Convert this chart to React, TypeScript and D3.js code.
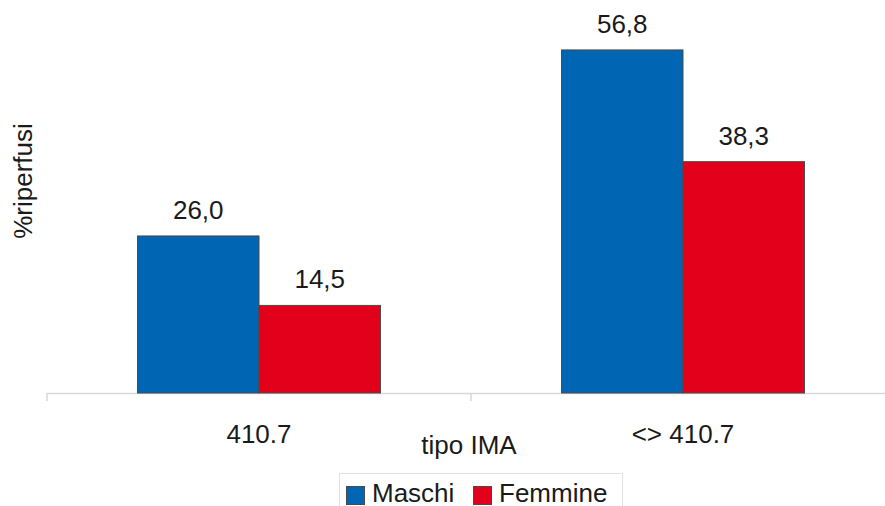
import React from "react";
import * as d3 from "d3";

const categories = ["410.7", "<> 410.7"];
const seriesNames = ["Maschi", "Femmine"];
const maschi = [26.0, 56.8];
const femmine = [14.5, 38.3];
const seriesColors = ["#0066B3", "#E2001A"];

const W = 885;
const H = 506;
const FONT = "'Liberation Sans', Arial, sans-serif";

export default function App() {
  const x0 = 47, x1 = 895;
  const yBase = 393;
  const x = d3.scaleBand<string>().domain(categories).range([x0, x1]).paddingInner(0.427).paddingOuter(0.2135);
  const xs = d3.scaleBand<string>().domain(seriesNames).range([0, x.bandwidth()]);
  const y = d3.scaleLinear().domain([0, 60]).range([yBase, yBase - 60 * 6.04]);
  const values = [maschi, femmine];
  const fmt = (v: number) => v.toFixed(1).replace(".", ",");
  const step = x.step();
  const tickXs = [x0, x0 + step, x0 + 2 * step];

  return (
    <svg width={W} height={H} style={{ position: "absolute", left: 0, top: 0, background: "#fff" }} fontFamily={FONT}>
      <rect x={0} y={0} width={W} height={H} fill="#fff" />
      {/* axis */}
      <line x1={x0} x2={x1} y1={yBase + 0.5} y2={yBase + 0.5} stroke="#d9d9d9" strokeWidth={1.5} />
      {tickXs.map((t, i) => (
        <line key={i} x1={t} x2={t} y1={yBase} y2={yBase + 8} stroke="#d9d9d9" strokeWidth={1.5} />
      ))}
      {/* bars */}
      {categories.map((c, ci) =>
        seriesNames.map((s, si) => {
          const v = values[si][ci];
          const bx = (x(c) ?? 0) + (xs(s) ?? 0);
          const by = y(v);
          return (
            <g key={c + s}>
              <rect x={bx} y={by} width={xs.bandwidth()} height={yBase - by} fill={seriesColors[si]} stroke="#4a4a4a" strokeWidth={1} />
              <text x={bx + xs.bandwidth() / 2} y={by - 17} textAnchor="middle" fontSize={26} fill="#1a1a1a">{fmt(v)}</text>
            </g>
          );
        })
      )}
      {/* category labels */}
      {categories.map((c) => (
        <text key={c} x={(x(c) ?? 0) + x.bandwidth() / 2} y={443} textAnchor="middle" fontSize={26} fill="#1a1a1a">{c}</text>
      ))}
      <text x={469} y={454} textAnchor="middle" fontSize={26} fill="#1a1a1a">tipo IMA</text>
      <text transform={`translate(32,181) rotate(-90)`} textAnchor="middle" fontSize={26} fill="#1a1a1a">%riperfusi</text>
      {/* legend */}
      <rect x={339.5} y={473.5} width={283} height={40} fill="#fff" stroke="#e0e0e0" strokeWidth={1} />
      {seriesNames.map((s, i) => {
        const lx = i === 0 ? 346 : 473;
        return (
          <g key={s}>
            <rect x={lx + 0.5} y={486.5} width={18} height={18} fill={seriesColors[i]} stroke="#4a4a4a" strokeWidth={1} />
            <text x={lx + 26} y={502} fontSize={26} fill="#1a1a1a">{s}</text>
          </g>
        );
      })}
    </svg>
  );
}
